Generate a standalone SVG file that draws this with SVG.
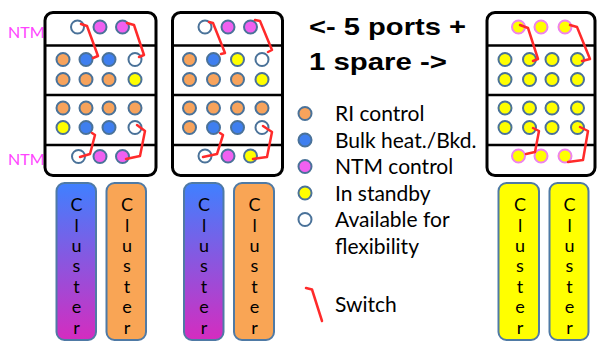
<svg xmlns="http://www.w3.org/2000/svg" width="597" height="341" viewBox="0 0 597 341">
<defs>
<linearGradient id="grad" x1="0" y1="0" x2="0" y2="1"><stop offset="0" stop-color="#3f80ff"/><stop offset="1" stop-color="#d52cbf"/></linearGradient>
<style>
.box{fill:#fff;stroke:#000;stroke-width:3}
.dv{stroke:#000;stroke-width:2.5}
circle{stroke:#4a7299;stroke-width:2}
.o{fill:#f7a35c}.b{fill:#3f7fef}.m{fill:#f060f0}.y{fill:#ffff00}.w{fill:#fff}
circle.yp{fill:#ffff00;stroke:#ee82ee}
.sw{fill:none;stroke:#ff2a2a;stroke-width:2.5;stroke-linejoin:round;stroke-linecap:round}
.bar{stroke:#4f7aa5;stroke-width:2}
text{font-family:Lato,"Liberation Sans",sans-serif;fill:#000}
.cl{font-size:18px;text-anchor:middle}
.ntm{fill:#ff44ff;font-size:16px}
.lg{font-size:21px}
.hd{font-family:"Liberation Sans",Arial,sans-serif;font-weight:bold;font-size:24.5px}
</style>
</defs>
<rect width="597" height="341" fill="#fff"/>

<g id="ntm-labels">
<text class="ntm" x="8" y="37.5">NTM</text>
<text class="ntm" x="8" y="165">NTM</text>
</g>

<g id="rack1">
<rect class="box" x="45" y="12.5" width="111" height="163" rx="8"/>
<line class="dv" x1="45" y1="45.5" x2="156" y2="45.5"/>
<line class="dv" x1="45" y1="95" x2="156" y2="95"/>
<line class="dv" x1="45" y1="145" x2="156" y2="145"/>
<circle class="w" cx="77.5" cy="27" r="6.5"/><circle class="m" cx="100" cy="27" r="6.5"/><circle class="m" cx="122.5" cy="27" r="6.5"/>
<circle class="o" cx="63" cy="59.5" r="6.5"/><circle class="b" cx="86" cy="59.5" r="6.5"/><circle class="b" cx="109" cy="59.5" r="6.5"/><circle class="w" cx="135" cy="59.5" r="6.5"/>
<circle class="o" cx="63" cy="79.5" r="6.5"/><circle class="o" cx="86" cy="79.5" r="6.5"/><circle class="o" cx="109" cy="79.5" r="6.5"/><circle class="y" cx="135" cy="79.5" r="6.5"/>
<circle class="o" cx="63" cy="108" r="6.5"/><circle class="o" cx="86" cy="108" r="6.5"/><circle class="o" cx="109" cy="108" r="6.5"/><circle class="o" cx="135" cy="108" r="6.5"/>
<circle class="y" cx="63" cy="127.5" r="6.5"/><circle class="b" cx="86" cy="127.5" r="6.5"/><circle class="b" cx="109" cy="127.5" r="6.5"/><circle class="w" cx="135" cy="127.5" r="6.5"/>
<circle class="w" cx="78.5" cy="156.5" r="6.5"/><circle class="m" cx="100" cy="156.5" r="6.5"/><circle class="m" cx="122.5" cy="156.5" r="6.5"/>
</g>

<g id="rack2">
<rect class="box" x="172.5" y="12.5" width="110" height="163" rx="8"/>
<line class="dv" x1="172.5" y1="45.5" x2="282.5" y2="45.5"/>
<line class="dv" x1="172.5" y1="95" x2="282.5" y2="95"/>
<line class="dv" x1="172.5" y1="145" x2="282.5" y2="145"/>
<circle class="w" cx="205" cy="27" r="6.5"/><circle class="m" cx="228" cy="27" r="6.5"/><circle class="m" cx="250.5" cy="27" r="6.5"/>
<circle class="o" cx="189.5" cy="59.5" r="6.5"/><circle class="b" cx="213.5" cy="59.5" r="6.5"/><circle class="y" cx="237.5" cy="59.5" r="6.5"/><circle class="w" cx="262" cy="59.5" r="6.5"/>
<circle class="o" cx="189.5" cy="79.5" r="6.5"/><circle class="o" cx="213.5" cy="79.5" r="6.5"/><circle class="o" cx="237.5" cy="79.5" r="6.5"/><circle class="y" cx="262" cy="79.5" r="6.5"/>
<circle class="o" cx="189.5" cy="108" r="6.5"/><circle class="o" cx="213.5" cy="108" r="6.5"/><circle class="o" cx="237.5" cy="108" r="6.5"/><circle class="o" cx="262" cy="108" r="6.5"/>
<circle class="o" cx="189.5" cy="127.5" r="6.5"/><circle class="b" cx="213.5" cy="127.5" r="6.5"/><circle class="b" cx="237.5" cy="127.5" r="6.5"/><circle class="w" cx="262" cy="127.5" r="6.5"/>
<circle class="w" cx="205" cy="156" r="6.5"/><circle class="m" cx="228" cy="156" r="6.5"/><circle class="y" cx="250.5" cy="156" r="6.5"/>
</g>

<g id="rack3">
<rect class="box" x="487" y="12.5" width="108" height="163" rx="8"/>
<line class="dv" x1="487" y1="45.5" x2="595" y2="45.5"/>
<line class="dv" x1="487" y1="95" x2="595" y2="95"/>
<line class="dv" x1="487" y1="145" x2="595" y2="145"/>
<circle class="yp" cx="518.5" cy="27" r="6.5"/><circle class="yp" cx="541" cy="27" r="6.5"/><circle class="yp" cx="565" cy="27" r="6.5"/>
<circle class="y" cx="505" cy="59.5" r="6.5"/><circle class="y" cx="529.5" cy="59.5" r="6.5"/><circle class="y" cx="552" cy="59.5" r="6.5"/><circle class="y" cx="577.5" cy="59.5" r="6.5"/>
<circle class="y" cx="505" cy="79.5" r="6.5"/><circle class="y" cx="529.5" cy="79.5" r="6.5"/><circle class="y" cx="552" cy="79.5" r="6.5"/><circle class="y" cx="577.5" cy="79.5" r="6.5"/>
<circle class="y" cx="505" cy="108" r="6.5"/><circle class="y" cx="529.5" cy="108" r="6.5"/><circle class="y" cx="552" cy="108" r="6.5"/><circle class="y" cx="577.5" cy="108" r="6.5"/>
<circle class="y" cx="505" cy="127.5" r="6.5"/><circle class="y" cx="529.5" cy="127.5" r="6.5"/><circle class="y" cx="552" cy="127.5" r="6.5"/><circle class="y" cx="577.5" cy="127.5" r="6.5"/>
<circle class="yp" cx="518.5" cy="156" r="6.5"/><circle class="yp" cx="541" cy="156" r="6.5"/><circle class="yp" cx="565" cy="156" r="6.5"/>
</g>

<g id="switches">
<path class="sw" d="M81,24 L87,26 L98,56 L93,58"/>
<path class="sw" d="M127,23 L134,25 L144,55 L139,57"/>
<path class="sw" d="M92,133 L95,135 L90,154 L80,157"/>
<path class="sw" d="M137,125 L145,131 L140,156 L126,159"/>
<path class="sw" d="M209,22 L213,23 L225,53 L221,54"/>
<path class="sw" d="M255,20 L260,21 L272,50 L268,52"/>
<path class="sw" d="M220,133 L223,135 L217,154 L203,157"/>
<path class="sw" d="M263,126 L272,132 L267,157 L253,159"/>
<path class="sw" d="M520,25 L528,28 L538,59 L533,61"/>
<path class="sw" d="M570,25 L577,27 L590,59 L582,61"/>
<path class="sw" d="M533,128 L539,131 L535,152 L526,154"/>
<path class="sw" d="M580,127 L588,131 L583,160 L568,162"/>
</g>

<g id="heading">
<text class="hd" x="309" y="35" textLength="157" lengthAdjust="spacingAndGlyphs">&lt;- 5 ports +</text>
<text class="hd" x="309" y="70" textLength="138" lengthAdjust="spacingAndGlyphs">1 spare -&gt;</text>
</g>

<g id="legend">
<circle class="o" cx="305" cy="113.5" r="6.5"/><text class="lg" x="335" y="121">RI control</text>
<circle class="b" cx="305" cy="140" r="6.5"/><text class="lg" x="335" y="147.5">Bulk heat./Bkd.</text>
<circle class="m" cx="305" cy="166.5" r="6.5"/><text class="lg" x="335" y="174">NTM control</text>
<circle class="y" cx="305" cy="193" r="6.5"/><text class="lg" x="335" y="200.5">In standby</text>
<circle class="w" cx="305" cy="219.5" r="6.5"/><text class="lg" x="335" y="227">Available for</text>
<text class="lg" x="335" y="253.5">flexibility</text>
<path class="sw" d="M306,288 L312,289.5 L322,321"/>
<text class="lg" x="335" y="312">Switch</text>
</g>

<g id="cluster1">
<rect class="bar" x="56.5" y="183" width="39.5" height="157" rx="8" fill="url(#grad)"/>
<text class="cl"><tspan x="76.5" y="211">C</tspan><tspan x="76.5" y="231.5">l</tspan><tspan x="76.5" y="252">u</tspan><tspan x="76.5" y="272">s</tspan><tspan x="76.5" y="292.5">t</tspan><tspan x="76.5" y="313">e</tspan><tspan x="76.5" y="333.5">r</tspan></text>
</g>
<g id="cluster2">
<rect class="bar" x="106.5" y="183" width="39.5" height="157" rx="8" fill="#f9a555"/>
<text class="cl"><tspan x="127" y="211">C</tspan><tspan x="127" y="231.5">l</tspan><tspan x="127" y="252">u</tspan><tspan x="127" y="272">s</tspan><tspan x="127" y="292.5">t</tspan><tspan x="127" y="313">e</tspan><tspan x="127" y="333.5">r</tspan></text>
</g>
<g id="cluster3">
<rect class="bar" x="184" y="183" width="39.5" height="157" rx="8" fill="url(#grad)"/>
<text class="cl"><tspan x="204" y="211">C</tspan><tspan x="204" y="231.5">l</tspan><tspan x="204" y="252">u</tspan><tspan x="204" y="272">s</tspan><tspan x="204" y="292.5">t</tspan><tspan x="204" y="313">e</tspan><tspan x="204" y="333.5">r</tspan></text>
</g>
<g id="cluster4">
<rect class="bar" x="234" y="183" width="40" height="157" rx="8" fill="#f9a555"/>
<text class="cl"><tspan x="254.5" y="211">C</tspan><tspan x="254.5" y="231.5">l</tspan><tspan x="254.5" y="252">u</tspan><tspan x="254.5" y="272">s</tspan><tspan x="254.5" y="292.5">t</tspan><tspan x="254.5" y="313">e</tspan><tspan x="254.5" y="333.5">r</tspan></text>
</g>
<g id="cluster5">
<rect class="bar" x="498.5" y="183" width="40.5" height="157" rx="8" fill="#ffff00"/>
<text class="cl"><tspan x="520" y="211">C</tspan><tspan x="520" y="231.5">l</tspan><tspan x="520" y="252">u</tspan><tspan x="520" y="272">s</tspan><tspan x="520" y="292.5">t</tspan><tspan x="520" y="313">e</tspan><tspan x="520" y="333.5">r</tspan></text>
</g>
<g id="cluster6">
<rect class="bar" x="549.5" y="183" width="39" height="157" rx="8" fill="#ffff00"/>
<text class="cl"><tspan x="569.5" y="211">C</tspan><tspan x="569.5" y="231.5">l</tspan><tspan x="569.5" y="252">u</tspan><tspan x="569.5" y="272">s</tspan><tspan x="569.5" y="292.5">t</tspan><tspan x="569.5" y="313">e</tspan><tspan x="569.5" y="333.5">r</tspan></text>
</g>
</svg>
